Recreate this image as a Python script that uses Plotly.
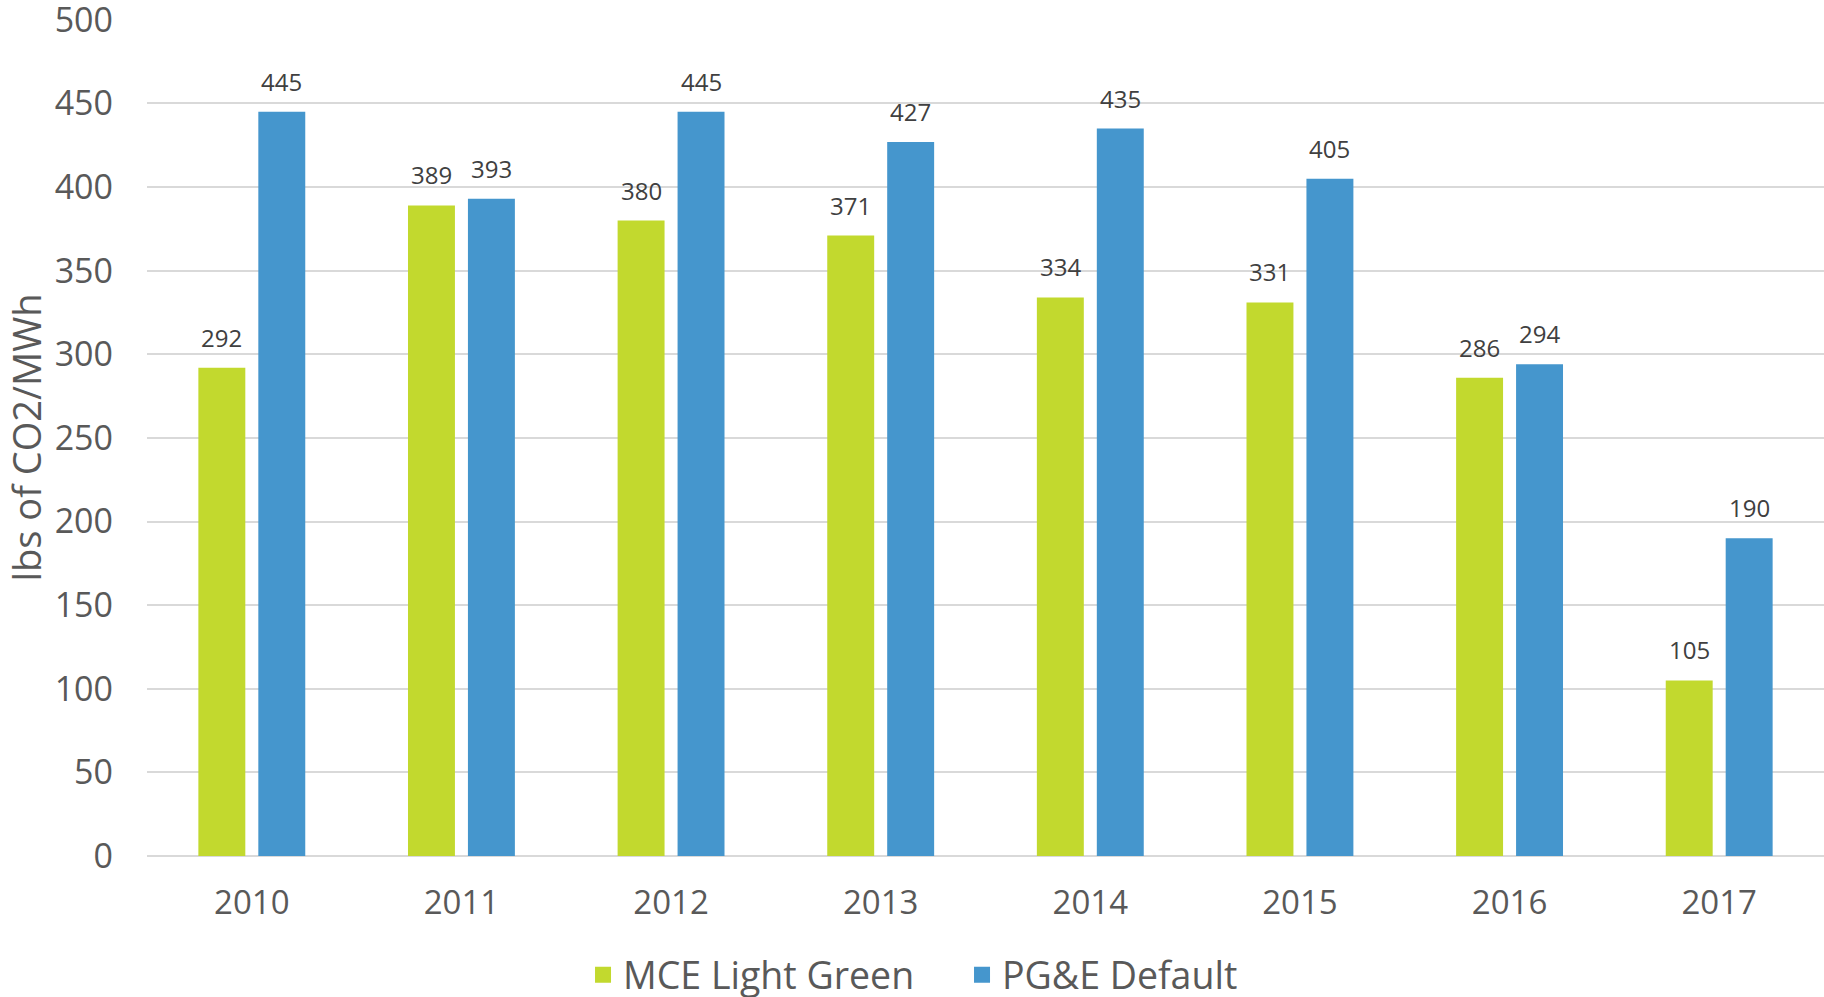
import plotly.graph_objects as go

years = ["2010", "2011", "2012", "2013", "2014", "2015", "2016", "2017"]
mce_light_green = [292, 389, 380, 371, 334, 331, 286, 105]
pge_default = [445, 393, 445, 427, 435, 405, 294, 190]
series_names = ["MCE Light Green", "PG&E Default"]
y_ticks = [0, 50, 100, 150, 200, 250, 300, 350, 400, 450, 500]

GREEN = "#C2D92E"
BLUE = "#4596CD"
TEXT = "#595959"
LABEL = "#404040"
FONT = "Open Sans"

W, H = 1824, 997
BARGAP = 0.428
BARGROUPGAP = 0.217
PLOT_LEFT, PLOT_RIGHT = 147, 0
PLOT_TOP, PLOT_BOTTOM = 19, 141
plot_w = W - PLOT_LEFT - PLOT_RIGHT
slot_px = plot_w / len(years) * (1 - BARGAP) / 2

fig = go.Figure()
for name, vals, col in [(series_names[0], mce_light_green, GREEN),
                        (series_names[1], pge_default, BLUE)]:
    fig.add_trace(go.Bar(x=years, y=vals, name=name, marker=dict(color=col, line=dict(width=0)),
                         showlegend=False, hoverinfo="x+y+name"))
    # legend proxy (draws nothing in the plot)
    fig.add_trace(go.Scatter(x=[years[0]], y=[None], mode="markers", name=name,
                             marker=dict(symbol="square", size=22, color=col),
                             showlegend=True, hoverinfo="skip"))

annotations = []
for vals, sign in [(mce_light_green, -1), (pge_default, 1)]:
    for i, v in enumerate(vals):
        annotations.append(dict(x=i, y=v, xref="x", yref="y", text=str(v),
                                showarrow=False, xanchor="center", yanchor="bottom",
                                xshift=sign * slot_px / 2, yshift=12,
                                font=dict(family=FONT, size=24, color=LABEL)))

fig.update_layout(
    width=W, height=H,
    margin=dict(l=PLOT_LEFT, r=PLOT_RIGHT, t=PLOT_TOP, b=PLOT_BOTTOM, autoexpand=False),
    paper_bgcolor="white", plot_bgcolor="white",
    barmode="group", bargap=BARGAP, bargroupgap=BARGROUPGAP,
    font=dict(family=FONT, color=TEXT),
    annotations=annotations,
    showlegend=True,
    legend=dict(orientation="h", x=0.260, xanchor="left", y=-0.142, yanchor="middle",
                font=dict(family=FONT, size=37.5, color=TEXT), itemwidth=30,
                entrywidth=334, entrywidthmode="pixels",
                bgcolor="rgba(0,0,0,0)", tracegroupgap=0),
    xaxis=dict(type="category", categoryorder="array", categoryarray=years,
               range=[-0.5, len(years) - 0.5],
               showgrid=False, showline=False, zeroline=False, ticks="",
               tickfont=dict(family=FONT, size=33, color=TEXT), ticklabelstandoff=24),
    yaxis=dict(range=[0, 500.5], tickvals=y_ticks, showgrid=True, gridcolor="#D9D9D9",
               gridwidth=1.5, zeroline=True, zerolinecolor="#D9D9D9", zerolinewidth=2,
               showline=False, ticks="", ticklabelstandoff=33, ticklabeloverflow="allow",
               tickfont=dict(family=FONT, size=34, color=TEXT),
               title=dict(text="lbs of CO2/MWh", standoff=3,
                          font=dict(family=FONT, size=38, color=TEXT))),
)
fig.write_html("out.html", config={"displayModeBar": False},
               post_script="document.body.style.margin='0';document.body.style.overflow='hidden';")
